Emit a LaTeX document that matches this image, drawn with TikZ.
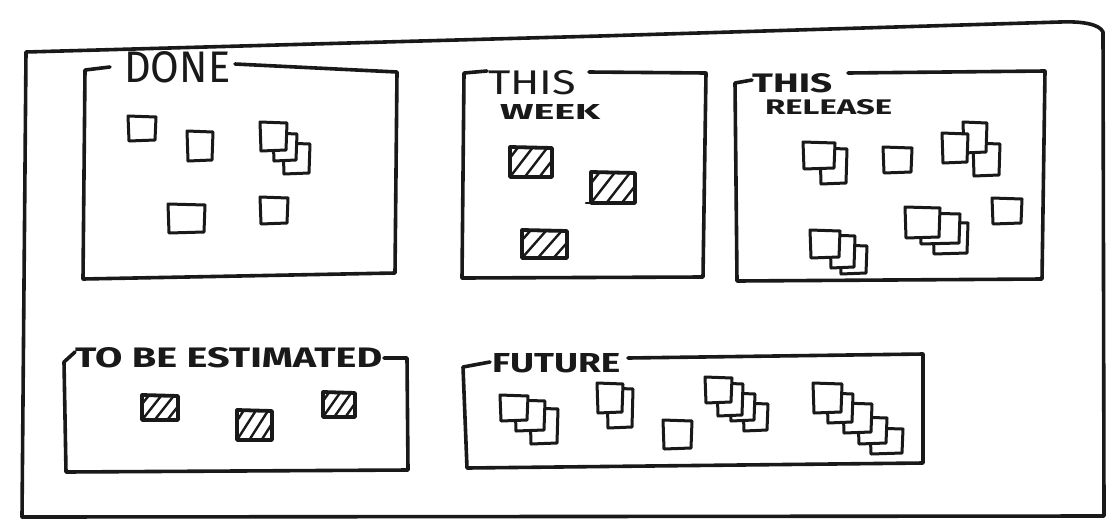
\documentclass[tikz,border=0pt]{standalone}
\usepackage{fontspec}
\setmainfont{Fira Sans}
\usepackage{graphicx}
\tikzset{
  ink/.style={draw=black!90, line width=3.6pt, line cap=round, line join=round},
  cardline/.style={draw=black!90, line width=3pt, line cap=round, line join=round},
  lbl/.style={anchor=base west, inner sep=0pt, text=black!90},
}
% plain card: x1 y1 x2 y2 (slightly wobbly quadrilateral, white fill)
\newcommand\pcard[4]{%
  \filldraw[cardline, fill=white] (#1,#2) -- (#3,#2+1) -- (#3-1,#4) -- (#1+1,#4+1) -- cycle;}
% hatched card: x y w h
\newcommand\hcard[4]{%
  \begin{scope}[shift={(#1,#2)}]
    \begin{scope}
      \clip (0,0) rectangle (#3,#4);
      \foreach \t in {-0.35,0.0,0.35,0.7}
        \draw[black!90, line width=2.4pt] ({\t*#3},#4) -- ({\t*#3+0.55*#3},0);
    \end{scope}
    \draw[cardline, line width=3.8pt] (0,0) -- (#3,1) -- (#3,#4) -- (0,#4) -- cycle;
  \end{scope}}
\begin{document}
\begin{tikzpicture}[x=1pt,y=-1pt]
\fill[white] (0,0) rectangle (1108,520);
\useasboundingbox (0,0) rectangle (1108,520);

% outer frame
\draw[ink] (26,52) -- (600,36) -- (1060,22) .. controls (1085,21) and (1100,25) .. (1103,32)
  -- (1104,516) -- (22,517) -- cycle;

% ---------- DONE ----------
\draw[ink] (110,67) -- (85,70) -- (83,279) -- (395,273) -- (397,72) -- (235,64);
\node[lbl] (done) at (124,82) {\resizebox{106pt}{31pt}{DONE}};
\pcard{128}{116}{156}{140}
\pcard{187}{131}{213}{160}
\pcard{283}{143}{310}{173}
\pcard{273}{133}{297}{160}
\pcard{260}{122}{287}{150}
\pcard{168}{204}{205}{232}
\pcard{260}{197}{288}{223}

% ---------- THIS WEEK ----------
\draw[ink] (487,71) -- (464,73) -- (462,278) -- (703,277) -- (706,73) -- (589,72);
\node[lbl] (week1) at (488,94) {\resizebox{88pt}{24pt}{THIS}};
\node[lbl] (week2) at (500,119) {\resizebox{100pt}{15pt}{\bfseries WEEK}};
\hcard{510}{147}{42}{30}
\hcard{591}{172}{44}{31}
\draw[ink, line width=2.6pt] (586,203) -- (595,203);
\hcard{522}{230}{45}{28}

% ---------- THIS RELEASE ----------
\draw[ink] (752,80) -- (735,83) -- (737,281) -- (1042,279) -- (1045,71) -- (848,73);
\node[lbl] (rel1) at (752,92) {\resizebox{80pt}{19pt}{\bfseries THIS}};
\node[lbl] (rel2) at (765,114) {\resizebox{127pt}{15pt}{\bfseries RELEASE}};
\pcard{820}{148}{847}{183}
\pcard{803}{142}{835}{168}
\pcard{883}{147}{912}{172}
\pcard{973}{143}{1000}{175}
\pcard{963}{122}{987}{152}
\pcard{942}{133}{968}{162}
\pcard{992}{198}{1022}{223}
\pcard{933}{222}{968}{253}
\pcard{920}{213}{960}{243}
\pcard{905}{207}{940}{237}
\pcard{840}{245}{867}{273}
\pcard{830}{235}{855}{267}
\pcard{810}{230}{840}{257}

% ---------- TO BE ESTIMATED ----------
\draw[ink] (75,352) -- (64,362) -- (66,472) -- (408,470) -- (407,358) -- (384,358);
\node[lbl] (tbe) at (75,367) {\resizebox{307pt}{20pt}{\bfseries TO BE ESTIMATED}};
\hcard{142}{395}{36}{25}
\hcard{237}{410}{35}{30}
\hcard{323}{392}{32}{25}

% ---------- FUTURE ----------
\draw[ink] (490,362) -- (463,367) -- (467,468) -- (923,463) -- (923,354) -- (628,358);
\node[lbl] (fut) at (492,372) {\resizebox{128pt}{19pt}{\bfseries FUTURE}};
\pcard{530}{408}{558}{443}
\pcard{515}{400}{545}{430}
\pcard{500}{395}{528}{420}
\pcard{607}{388}{633}{427}
\pcard{597}{383}{623}{412}
\pcard{663}{420}{692}{448}
\pcard{743}{403}{768}{430}
\pcard{730}{393}{755}{420}
\pcard{717}{383}{743}{415}
\pcard{705}{377}{732}{402}
\pcard{870}{428}{903}{453}
\pcard{858}{417}{887}{443}
\pcard{843}{403}{872}{432}
\pcard{827}{393}{853}{422}
\pcard{813}{383}{842}{412}
\end{tikzpicture}
\end{document}
